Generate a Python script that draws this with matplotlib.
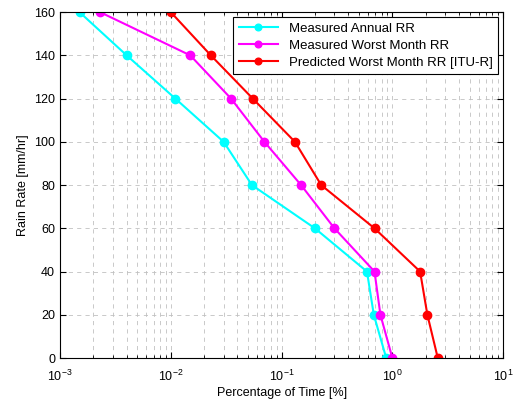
import matplotlib
matplotlib.use('Agg')
import matplotlib.pyplot as plt
import numpy as np

rain_rate = [160, 140, 120, 100, 80, 60, 40, 20, 0]
annual_rr = [0.0015, 0.004, 0.011, 0.03, 0.054, 0.2, 0.59, 0.68, 0.88]
worst_month_rr = [0.0023, 0.015, 0.035, 0.07, 0.15, 0.3, 0.69, 0.78, 1.0]
itu_worst_month_rr = [0.01, 0.023, 0.055, 0.132, 0.228, 0.69, 1.78, 2.07, 2.57]

plt.rcParams['font.family'] = ['Liberation Sans', 'DejaVu Sans']
plt.rcParams['font.size'] = 9

fig = plt.figure(figsize=(5.15, 4.05), dpi=100)
ax = fig.add_axes([0.1165, 0.116, 0.8605, 0.854])

ax.plot(annual_rr, rain_rate, '-o', color='cyan', lw=1.5, ms=6, label='Measured Annual RR')
ax.plot(worst_month_rr, rain_rate, '-o', color='magenta', lw=1.5, ms=6, label='Measured Worst Month RR')
ax.plot(itu_worst_month_rr, rain_rate, '-o', color='red', lw=1.5, ms=6,
        label='Predicted Worst Month RR [ITU-R]')

ax.set_xscale('log')
ax.set_xlim(1e-3, 10)
ax.set_ylim(0, 160)
ax.set_yticks(np.arange(0, 161, 20))
ax.set_xlabel('Percentage of Time [%]', labelpad=2)
ax.set_ylabel('Rain Rate [mm/hr]')

ax.grid(True, which='major', axis='both', ls=(0, (5, 5)), color='#c0c0c0', lw=0.6)
ax.grid(True, which='minor', axis='x', ls=(0, (5, 5)), color='#c0c0c0', lw=0.6)
ax.tick_params(which='both', direction='in', top=True, right=True)
ax.tick_params(which='major', length=4)
ax.tick_params(which='minor', length=2)
ax.tick_params(axis='x', which='major', pad=8)
ax.set_axisbelow(True)

leg = ax.legend(loc='upper right', fancybox=False, edgecolor='black', framealpha=1,
                borderaxespad=0.4, handlelength=3.0, fontsize=9.5, labelspacing=0.35,
                borderpad=0.4, markerscale=0.8)
leg.get_frame().set_linewidth(0.8)

fig.savefig('out.png', dpi=100)
